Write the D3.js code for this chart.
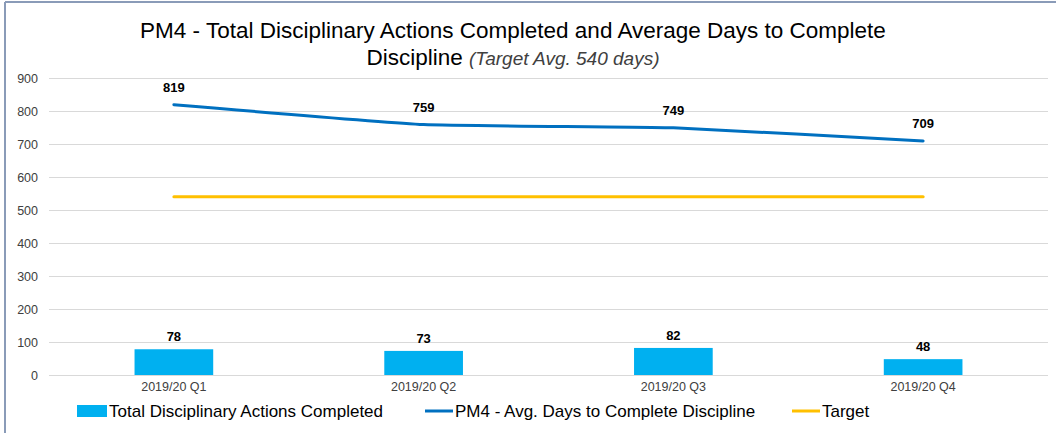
<!DOCTYPE html>
<html><head><meta charset="utf-8">
<script src="https://cdn.jsdelivr.net/npm/d3@7"></script>
<style>body{margin:0;background:#fff}svg{display:block}</style>
</head><body>
<svg id="c" width="1056" height="433"></svg>
<script>
const categories = ["2019/20 Q1","2019/20 Q2","2019/20 Q3","2019/20 Q4"];
const actionsCompleted = [78,73,82,48];
const avgDays = [819,759,749,709];
const target = [540,540,540,540];
const yTicks = [0,100,200,300,400,500,600,700,800,900];
const seriesNames = ["Total Disciplinary Actions Completed","PM4 - Avg. Days to Complete Discipline","Target"];

const svg = d3.select("#c");
const W=1056,H=433;
const narrow = "'Liberation Sans Narrow','Arial Narrow',sans-serif";
// frame
svg.append("line").attr("x1",5).attr("x2",5).attr("y1",2).attr("y2",H).attr("stroke","#8a9bb8").attr("stroke-width",2);
svg.append("line").attr("x1",5).attr("x2",W).attr("y1",2).attr("y2",2).attr("stroke","#8a9bb8").attr("stroke-width",2);

const x = d3.scaleBand().domain(categories).range([49,1048]).paddingInner(0.685).paddingOuter(0.3425);
const xc = d=>x(d)+x.bandwidth()/2;
const y = d3.scaleLinear().domain([0,900]).range([375,78]);

// grid
svg.append("g").selectAll("line").data(yTicks).join("line")
 .attr("x1",49).attr("x2",1048).attr("y1",d=>y(d)+0.5).attr("y2",d=>y(d)+0.5)
 .attr("stroke","#d9d9d9").attr("stroke-width",1);
// y axis labels
const yAxis = d3.axisLeft(y).tickValues(yTicks).tickSize(0).tickPadding(0);
const ga = svg.append("g").attr("transform","translate(38,0)").call(yAxis);
ga.select(".domain").remove();
ga.selectAll("text").attr("font-family","'Liberation Sans',Arial,sans-serif").attr("font-size",12.5).attr("fill","#404040");

// x axis labels
const xAxis = d3.axisBottom(x).tickSize(0).tickPadding(0);
const gx = svg.append("g").attr("transform","translate(0,382)").call(xAxis);
gx.select(".domain").remove();
gx.selectAll("text").attr("font-family","'Liberation Sans',Arial,sans-serif").attr("font-size",12.5).attr("fill","#404040");

// bars
svg.append("g").selectAll("rect").data(categories).join("rect")
 .attr("x",d=>x(d)).attr("width",x.bandwidth())
 .attr("y",(d,i)=>y(actionsCompleted[i])).attr("height",(d,i)=>y(0)-y(actionsCompleted[i]))
 .attr("fill","#00B0F0");
svg.append("g").selectAll("text").data(categories).join("text")
 .attr("x",d=>xc(d)).attr("y",(d,i)=>y(actionsCompleted[i])-8)
 .attr("text-anchor","middle").attr("font-family","'Liberation Sans',Arial,sans-serif")
 .attr("font-weight","bold").attr("font-size",13).attr("fill","#000").text((d,i)=>actionsCompleted[i]);

// target line
const line = d3.line().x((d,i)=>xc(categories[i])).y(d=>y(d));
svg.append("path").datum(target).attr("d",line).attr("fill","none").attr("stroke","#FFC000").attr("stroke-width",3).attr("stroke-linecap","round");
// avg days line
svg.append("path").datum(avgDays).attr("d",line.curve(d3.curveCardinal.tension(0.6))).attr("fill","none").attr("stroke","#0070C0").attr("stroke-width",3).attr("stroke-linecap","round");
svg.append("g").selectAll("text").data(categories).join("text")
 .attr("x",d=>xc(d)).attr("y",(d,i)=>y(avgDays[i])-13)
 .attr("text-anchor","middle").attr("font-family","'Liberation Sans',Arial,sans-serif")
 .attr("font-weight","bold").attr("font-size",13).attr("fill","#000").text((d,i)=>avgDays[i]);

// title
svg.append("text").attr("x",513).attr("y",38).attr("text-anchor","middle")
 .attr("font-family",narrow).attr("font-size",22.5).attr("fill","#000")
 .text("PM4 - Total Disciplinary Actions Completed and Average Days to Complete");
const t2 = svg.append("text").attr("x",513).attr("y",65).attr("text-anchor","middle")
 .attr("font-family",narrow).attr("font-size",22.5).attr("fill","#000");
t2.append("tspan").text("Discipline ");
t2.append("tspan").attr("font-style","italic").attr("font-size",19).attr("fill","#404040").text("(Target Avg. 540 days)");

// legend
const lg = svg.append("g").attr("font-family",narrow).attr("font-size",17).attr("fill","#000");
lg.append("rect").attr("x",77).attr("y",405).attr("width",30).attr("height",12).attr("fill","#00B0F0");
lg.append("text").attr("x",109).attr("y",417).text(seriesNames[0]);
lg.append("line").attr("x1",425).attr("x2",453).attr("y1",411).attr("y2",411).attr("stroke","#0070C0").attr("stroke-width",3);
lg.append("text").attr("x",455).attr("y",417).text(seriesNames[1]);
lg.append("line").attr("x1",792).attr("x2",820).attr("y1",411).attr("y2",411).attr("stroke","#FFC000").attr("stroke-width",3);
lg.append("text").attr("x",822).attr("y",417).text(seriesNames[2]);
</script>
</body></html>
